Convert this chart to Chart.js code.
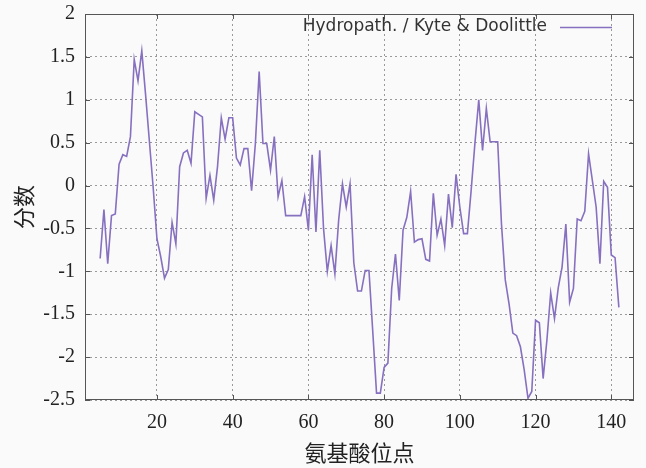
<!DOCTYPE html>
<html>
<head>
<meta charset="utf-8">
<script src="https://cdn.jsdelivr.net/npm/chart.js@4/dist/chart.umd.min.js"></script>
<style>
  html, body { margin: 0; padding: 0; background: #fafafa; }
  #wrap { width: 646px; height: 468px; }
</style>
</head>
<body>
<div id="wrap"><canvas id="hydro"></canvas></div>
<script>
// residue positions (window centre) and Kyte & Doolittle scores
const sites = [
  5, 6, 7, 8, 9, 10, 11, 12, 13, 14, 15, 16, 17, 18, 19, 20, 21, 22, 23, 24,
  25, 26, 27, 28, 29, 30, 31, 32, 33, 34, 35, 36, 37, 38, 39, 40, 41, 42, 43, 44,
  45, 46, 47, 48, 49, 50, 51, 52, 53, 54, 55, 56, 57, 58, 59, 60, 61, 62, 63, 64,
  65, 66, 67, 68, 69, 70, 71, 72, 73, 74, 75, 76, 77, 78, 79, 80, 81, 82, 83, 84,
  85, 86, 87, 88, 89, 90, 91, 92, 93, 94, 95, 96, 97, 98, 99, 100, 101, 102, 103, 104,
  105, 106, 107, 108, 109, 110, 111, 112, 113, 114, 115, 116, 117, 118, 119, 120, 121, 122, 123, 124,
  125, 126, 127, 128, 129, 130, 131, 132, 133, 134, 135, 136, 137, 138, 139, 140, 141, 142
];
const scores = [
  -0.85, -0.28, -0.91, -0.35, -0.33, 0.25, 0.36, 0.34, 0.57, 1.47, 1.22, 1.57, 1.06, 0.52, -0.02, -0.62, -0.83, -1.08, -0.98, -0.43,
  -0.68, 0.22, 0.38, 0.41, 0.26, 0.86, 0.83, 0.80, -0.15, 0.12, -0.17, 0.22, 0.79, 0.54, 0.79, 0.79, 0.32, 0.24, 0.43, 0.43,
  -0.06, 0.49, 1.33, 0.49, 0.49, 0.18, 0.57, -0.13, 0.06, -0.35, -0.35, -0.35, -0.35, -0.35, -0.13, -0.52, 0.36, -0.54, 0.41, -0.50,
  -1.00, -0.70, -1.03, -0.40, 0.02, -0.25, 0.02, -0.90, -1.23, -1.23, -0.99, -0.99, -1.70, -2.42, -2.42, -2.12, -2.07, -1.20, -0.80, -1.34,
  -0.52, -0.37, -0.07, -0.66, -0.63, -0.62, -0.86, -0.88, -0.09, -0.58, -0.39, -0.70, -0.10, -0.49, 0.13, -0.25, -0.56, -0.56, -0.05, 0.50,
  1.00, 0.41, 0.90, 0.51, 0.51, 0.51, -0.45, -1.10, -1.38, -1.72, -1.75, -1.88, -2.15, -2.48, -2.40, -1.57, -1.60, -2.25, -1.80, -1.25,
  -1.55, -1.19, -0.95, -0.45, -1.36, -1.20, -0.39, -0.41, -0.30, 0.37, 0.06, -0.25, -0.91, 0.05, -0.02, -0.81, -0.84, -1.42
];
const xTicks = [20, 40, 60, 80, 100, 120, 140];
const seriesLabel = 'Hydropath. / Kyte & Doolittle';

const lineColor = '#8670bf';
const serif = '"Liberation Serif", "DejaVu Serif", serif';
const cjk = '"Noto Sans CJK SC", sans-serif';

// gnuplot style frame with inward ticks on every side
const framePlugin = {
  id: 'frame',
  afterDraw(chart) {
    const { ctx, chartArea: a, scales } = chart;
    ctx.save();
    ctx.strokeStyle = '#555';
    ctx.lineWidth = 1;
    ctx.strokeRect(a.left + 0.5, a.top + 0.5, a.right - a.left - 1, a.bottom - a.top - 1);
    ctx.beginPath();
    const t = 5;
    scales.x.ticks.forEach(tk => {
      const px = Math.round(scales.x.getPixelForValue(tk.value)) + 0.5;
      ctx.moveTo(px, a.bottom); ctx.lineTo(px, a.bottom - t);
      ctx.moveTo(px, a.top); ctx.lineTo(px, a.top + t);
    });
    scales.y.ticks.forEach(tk => {
      const py = Math.round(scales.y.getPixelForValue(tk.value)) + 0.5;
      ctx.moveTo(a.left, py); ctx.lineTo(a.left + t, py);
      ctx.moveTo(a.right, py); ctx.lineTo(a.right - t, py);
    });
    ctx.stroke();
    ctx.restore();
  }
};

// key in the top right corner, text first then the line sample
const keyPlugin = {
  id: 'key',
  afterDraw(chart) {
    const { ctx, chartArea: a } = chart;
    const y = a.top + 13;
    const lineEnd = a.right - 22;
    const lineStart = lineEnd - 52;
    ctx.save();
    ctx.font = '17px "DejaVu Sans", sans-serif';
    ctx.fillStyle = '#333';
    ctx.textAlign = 'right';
    ctx.textBaseline = 'middle';
    ctx.fillText(chart.data.datasets[0].label, lineStart - 13, y);
    ctx.strokeStyle = lineColor;
    ctx.lineWidth = 1.5;
    ctx.beginPath();
    ctx.moveTo(lineStart, y + 0.5);
    ctx.lineTo(lineEnd, y + 0.5);
    ctx.stroke();
    ctx.restore();
  }
};

const points = sites.map((s, i) => ({ x: s, y: scores[i] }));

new Chart(document.getElementById('hydro'), {
  type: 'line',
  data: {
    datasets: [{
      label: seriesLabel,
      data: points,
      borderColor: lineColor,
      borderWidth: 1.6,
      pointRadius: 0,
      tension: 0,
      fill: false
    }]
  },
  options: {
    responsive: true,
    maintainAspectRatio: false,
    animation: false,
    layout: { padding: { top: 14, right: 12, left: 0, bottom: 0 } },
    plugins: {
      legend: { display: false },
      tooltip: { enabled: false }
    },
    scales: {
      x: {
        type: 'linear',
        min: 1,
        max: 146,
        afterBuildTicks: axis => { axis.ticks = xTicks.map(v => ({ value: v })); },
        afterFit: axis => { axis.height = 68; axis.paddingLeft = 0; axis.paddingRight = 0; },
        grid: { color: '#9a9a9a', lineWidth: 1, drawTicks: false },
        border: { display: false, dash: [2, 3] },
        ticks: { color: '#222', font: { family: serif, size: 20 }, padding: 11, maxRotation: 0 },
        title: {
          display: true,
          text: '氨基酸位点',
          color: '#222',
          font: { family: cjk, size: 22 },
          padding: { top: 0, bottom: 2 }
        }
      },
      y: {
        min: -2.5,
        max: 2,
        afterFit: axis => { axis.width = 85; axis.paddingTop = 0; axis.paddingBottom = 0; },
        grid: { color: '#9a9a9a', lineWidth: 1, drawTicks: false },
        border: { display: false, dash: [2, 3] },
        ticks: {
          stepSize: 0.5,
          color: '#222',
          font: { family: serif, size: 20 },
          padding: 10,
          callback: v => String(v)
        },
        title: {
          display: true,
          text: '分数',
          color: '#222',
          font: { family: cjk, size: 22 },
          padding: { top: 10, bottom: 0 }
        }
      }
    }
  },
  plugins: [framePlugin, keyPlugin]
});
</script>
</body>
</html>
